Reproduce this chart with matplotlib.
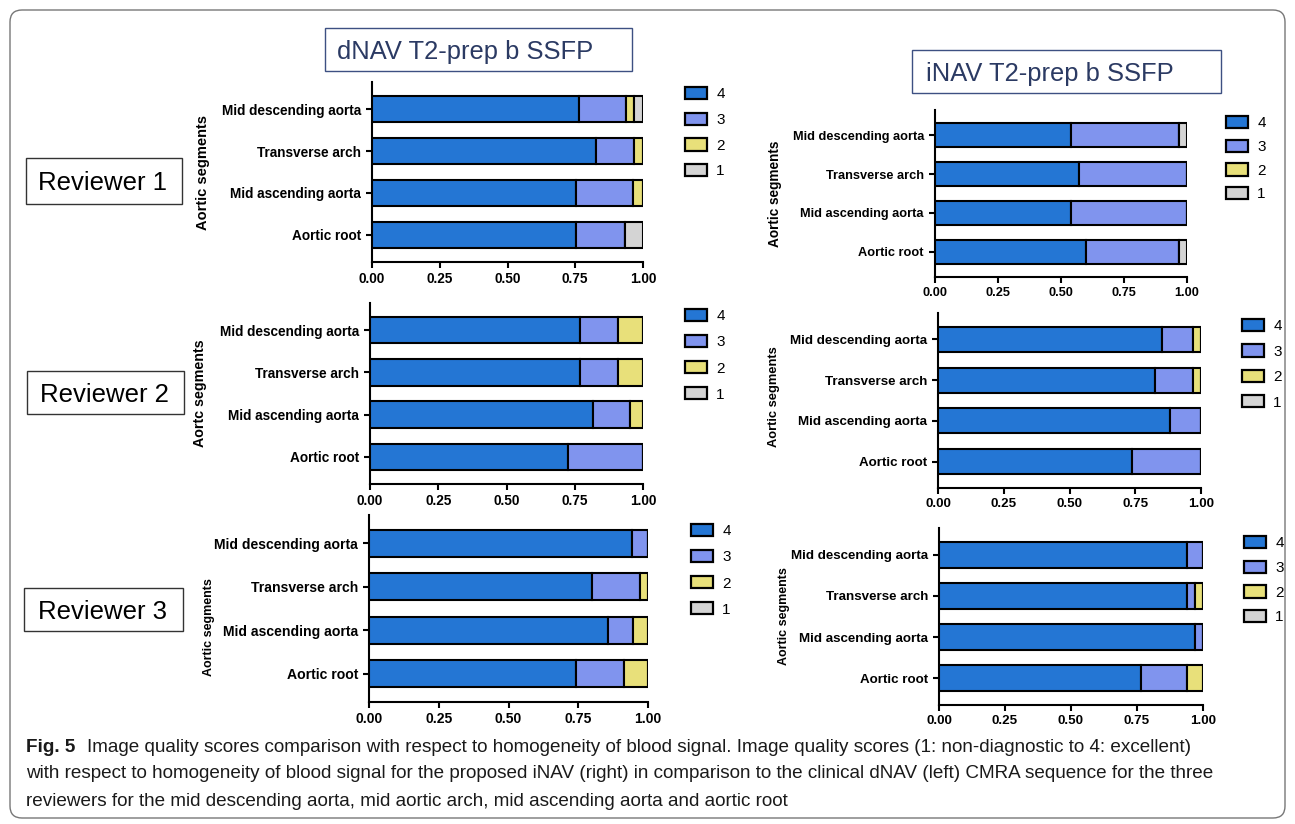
import numpy as np
import matplotlib
matplotlib.use("Agg")
import matplotlib.pyplot as plt
from matplotlib.patches import Patch, Rectangle, FancyBboxPatch
from matplotlib.transforms import IdentityTransform

W, H = 1295, 824

segments = ["Aortic root", "Mid ascending aorta", "Transverse arch", "Mid descending aorta"]
scores = ["4", "3", "2", "1"]
score_colors = ["#2476d4", "#8094ee", "#e8e07a", "#d4d4d4"]

# share of cases per score (rows: 4, 3, 2, 1), segments in the order above
dnav_r1 = [[0.752, 0.752, 0.825, 0.765],
           [0.182, 0.212, 0.142, 0.172],
           [0.000, 0.036, 0.033, 0.030],
           [0.066, 0.000, 0.000, 0.033]]
inav_r1 = [[0.600, 0.541, 0.572, 0.541],
           [0.367, 0.459, 0.428, 0.426],
           [0.000, 0.000, 0.000, 0.000],
           [0.033, 0.000, 0.000, 0.033]]
dnav_r2 = [[0.724, 0.816, 0.768, 0.768],
           [0.276, 0.135, 0.140, 0.140],
           [0.000, 0.049, 0.092, 0.092],
           [0.000, 0.000, 0.000, 0.000]]
inav_r2 = [[0.739, 0.884, 0.825, 0.853],
           [0.261, 0.116, 0.144, 0.116],
           [0.000, 0.000, 0.031, 0.031],
           [0.000, 0.000, 0.000, 0.000]]
dnav_r3 = [[0.741, 0.855, 0.799, 0.944],
           [0.172, 0.090, 0.173, 0.056],
           [0.087, 0.055, 0.028, 0.000],
           [0.000, 0.000, 0.000, 0.000]]
inav_r3 = [[0.766, 0.969, 0.938, 0.938],
           [0.172, 0.031, 0.031, 0.062],
           [0.062, 0.000, 0.031, 0.000],
           [0.000, 0.000, 0.000, 0.000]]

xticks = [0, 0.25, 0.5, 0.75, 1.0]

plt.rcParams["font.family"] = ["Liberation Sans", "DejaVu Sans"]
fig = plt.figure(figsize=(W / 100, H / 100), dpi=100)


def fig_xy(x, y):
    # pixel position (from top-left) -> figure fraction
    return x / W, 1 - y / H


def draw_panel(box, data, ylab, ylab_x, ylab_y, ylab_size, lab_size, leg_x, leg_y, leg_step):
    l, t, r, b = box
    ax = fig.add_axes([l / W, 1 - b / H, (r - l) / W, (b - t) / H])
    y = np.arange(len(segments))
    left = np.zeros(len(segments))
    for vals, color in zip(data, score_colors):
        ax.barh(y, vals, left=left, height=0.62, color=color,
                edgecolor="black", linewidth=1.5, zorder=3)
        left += np.array(vals)

    ax.set_xlim(0, 1)
    ax.set_ylim(-0.65, 3.65)
    ax.set_xticks(xticks, labels=[f"{v:.2f}" for v in xticks],
                  fontweight="bold", fontsize=lab_size)
    ax.set_yticks(y, labels=segments, fontweight="bold", fontsize=lab_size)
    ax.tick_params(axis="x", length=4, width=1.5, pad=3)
    ax.tick_params(axis="y", length=4.5, width=1.5, pad=3.5)
    for side in ["top", "right"]:
        ax.spines[side].set_visible(False)
    for side in ["left", "bottom"]:
        ax.spines[side].set_linewidth(1.5)

    ax.set_ylabel(ylab, fontweight="bold", fontsize=ylab_size)
    ax.yaxis.set_label_coords((ylab_x - l) / (r - l), ylab_y)

    handles = [Patch(facecolor=c, edgecolor="black", linewidth=1.6) for c in score_colors]
    fs = 11 * 100 / 72
    ax.legend(handles, scores, loc="upper left",
              bbox_to_anchor=fig_xy(leg_x, leg_y - 6), bbox_transform=fig.transFigure,
              frameon=False, borderpad=0, borderaxespad=0, fontsize=11,
              handlelength=1.45, handleheight=0.85, handletextpad=0.6,
              labelspacing=(leg_step - 14) / fs)
    return ax


draw_panel((372, 82, 643, 262), dnav_r1, "Aortic segments", 210, 0.5, 10.5, 9.8, 685, 93, 25.3)
draw_panel((935, 110, 1187, 277), inav_r1, "Aortic segments", 782, 0.5, 9.8, 9.2, 1226, 122, 23.3)
draw_panel((370, 303, 643, 484), dnav_r2, "Aortc segments", 207, 0.5, 10.3, 9.8, 685, 315, 25.7)
draw_panel((938, 313, 1201, 488), inav_r2, "Aortic segments", 780, 0.52, 9.3, 9.6, 1242, 325, 25.0)
draw_panel((369, 515, 648, 702), dnav_r3, "Aortic segments", 215, 0.40, 9.0, 10.1, 691, 530, 25.7)
draw_panel((939, 528, 1203, 705), inav_r3, "Aortic segments", 790, 0.5, 9.0, 9.6, 1244, 542, 24.3)


def boxed_label(box, text, text_x, color, edge, size):
    l, t, r, b = box
    x0, y0 = fig_xy(l, b)
    fig.add_artist(Rectangle((x0, y0), (r - l) / W, (b - t) / H, transform=fig.transFigure,
                             fill=False, edgecolor=edge, linewidth=1.0))
    fig.text(*fig_xy(text_x, (t + b) / 2), text, color=color, fontsize=size,
             ha="left", va="center_baseline")


navy = "#2b3a63"
boxed_label((325, 28, 632, 71), "dNAV T2-prep b SSFP", 337, navy, "#3d5082", 18.4)
boxed_label((912, 50, 1221, 93), "iNAV T2-prep b SSFP", 926, navy, "#3d5082", 18.4)
boxed_label((26, 158, 182, 204), "Reviewer 1", 38, "black", "#333333", 18.5)
boxed_label((27, 371, 184, 414), "Reviewer 2", 40, "black", "#333333", 18.5)
boxed_label((24, 588, 183, 631), "Reviewer 3", 38, "black", "#333333", 18.5)

# outer frame with rounded corners
fig.add_artist(FancyBboxPatch((10, H - 818), 1275, 808, boxstyle="round,pad=0,rounding_size=12",
                              transform=IdentityTransform(), fill=False,
                              edgecolor="#777777", linewidth=1.0))

# caption, three lines, sized so the full second line spans the text width
cap_font = ["Liberation Sans Narrow", "Liberation Sans"]
cap_lines = [
    "Image quality scores comparison with respect to homogeneity of blood signal. Image quality scores (1: non-diagnostic to 4: excellent)",
    "with respect to homogeneity of blood signal for the proposed iNAV (right) in comparison to the clinical dNAV (left) CMRA sequence for the three",
    "reviewers for the mid descending aorta, mid aortic arch, mid ascending aorta and aortic root",
]
renderer = fig.canvas.get_renderer()
probe = fig.text(*fig_xy(26, 772), cap_lines[1], family=cap_font, fontsize=12, va="center_baseline",
                 color="#1a1a1a")
cap_size = 12 * (1225 - 26) / probe.get_window_extent(renderer).width
probe.set_fontsize(cap_size)
fig.text(*fig_xy(26, 799), cap_lines[2], family=cap_font, fontsize=cap_size,
         va="center_baseline", color="#1a1a1a")
fig_lab = fig.text(*fig_xy(26, 745), "Fig. 5", family=cap_font, fontsize=cap_size,
                   fontweight="bold", va="center_baseline", color="#1a1a1a")
lab_w = fig_lab.get_window_extent(renderer).width
fig.text(*fig_xy(26 + lab_w + 12, 745), cap_lines[0], family=cap_font, fontsize=cap_size,
         va="center_baseline", color="#1a1a1a")

fig.savefig("out.png", dpi=100, facecolor="white")
